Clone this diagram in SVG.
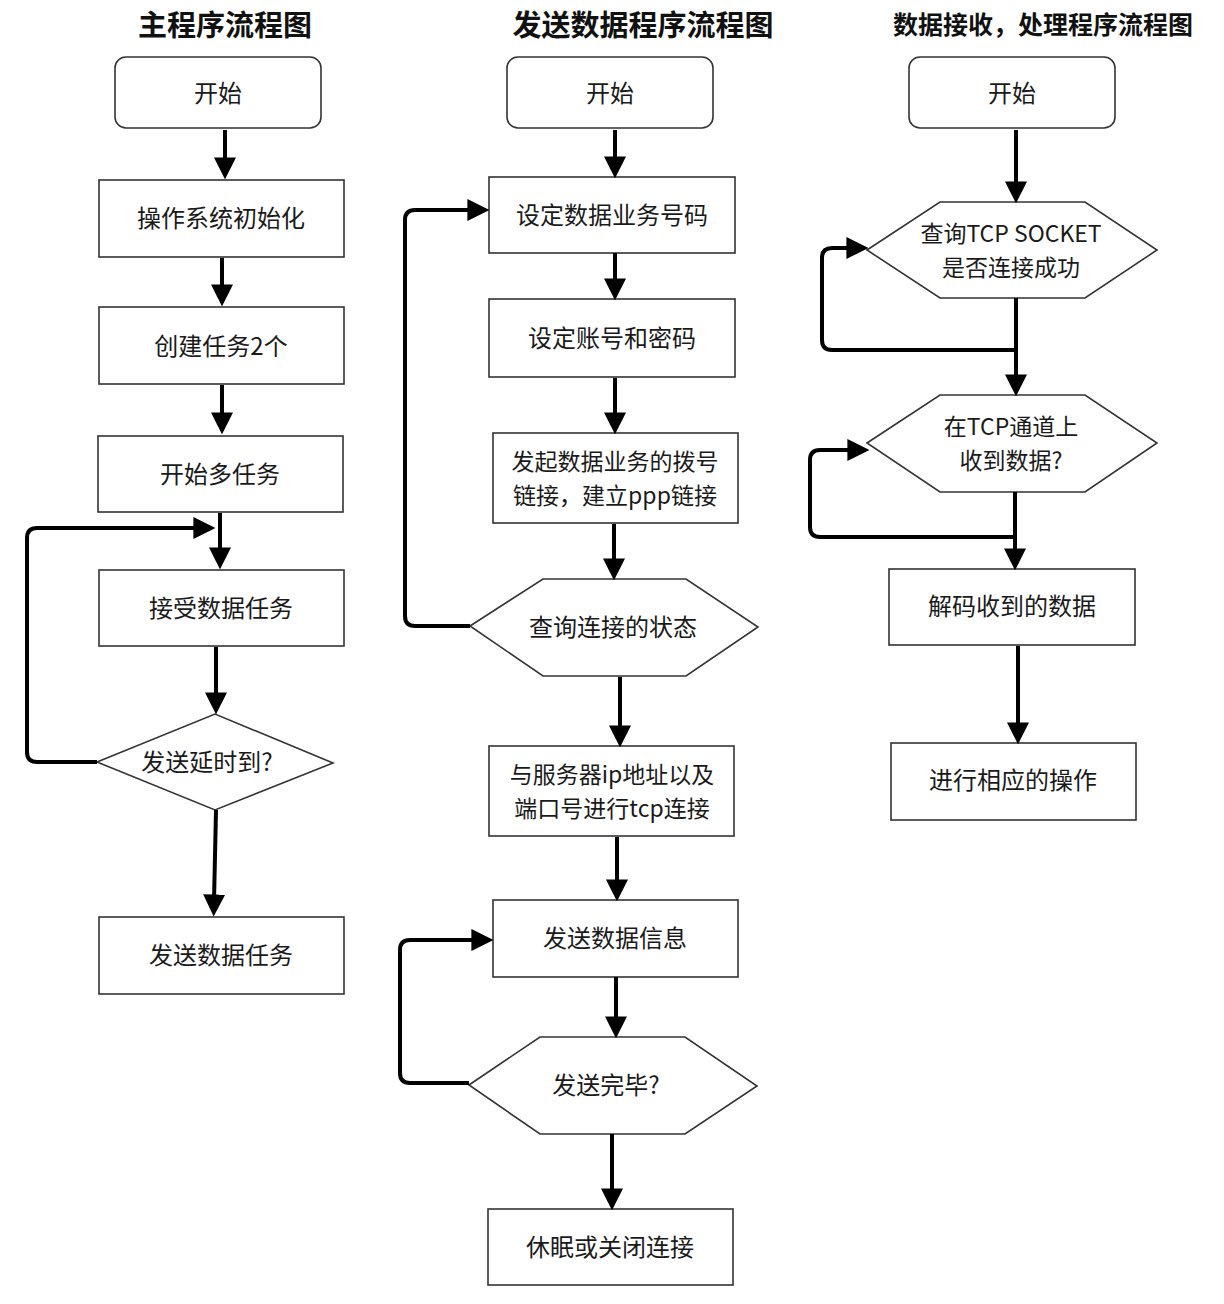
<svg xmlns="http://www.w3.org/2000/svg" width="1224" height="1304" viewBox="0 0 1224 1304">
<style>
.bg{fill:#ffffff}
.box{fill:#ffffff;stroke:#333333;stroke-width:1.6}
.t{font-family:"Noto Sans CJK SC","Noto Sans",sans-serif;font-size:24px;fill:#1a1a1a;text-anchor:middle;dominant-baseline:central}
.t2{font-size:23px}
.title{font-family:"Noto Sans CJK SC","Noto Sans",sans-serif;font-weight:bold;fill:#111111;text-anchor:middle;dominant-baseline:central}
.c{fill:none;stroke:#000000;stroke-width:4;stroke-linejoin:round;marker-end:url(#ah)}
</style>
<defs>
<marker id="ah" viewBox="0 0 20 20" markerUnits="userSpaceOnUse" markerWidth="22" markerHeight="22" refX="6" refY="10" orient="auto">
<path d="M0,0 L20,10 L0,20 z" fill="#000000"/>
</marker>
</defs>
<rect class="bg" x="0" y="0" width="1224" height="1304"/>

<g id="titles">
<text class="title" x="225" y="23" font-size="29">主程序流程图</text>
<text class="title" x="643" y="23" font-size="29">发送数据程序流程图</text>
<text class="title" x="1043" y="23" font-size="25">数据接收，处理程序流程图</text>
</g>

<!-- Column 1 -->
<g id="m_start"><rect class="box" x="115" y="57" width="206" height="71" rx="11"/><text class="t" x="218" y="91">开始</text></g>
<g id="m_init"><rect class="box" x="99" y="180" width="245" height="77"/><text class="t" x="221" y="216">操作系统初始化</text></g>
<g id="m_create"><rect class="box" x="99" y="307" width="245" height="77"/><text class="t" x="221" y="344">创建任务2个</text></g>
<g id="m_multi"><rect class="box" x="98" y="436" width="245" height="76"/><text class="t" x="220" y="472">开始多任务</text></g>
<g id="m_recv"><rect class="box" x="99" y="570" width="245" height="76"/><text class="t" x="221" y="606">接受数据任务</text></g>
<g id="m_delay"><polygon class="box" points="97,762 215,714 333,763 215,810"/><text class="t" x="207" y="760">发送延时到?</text></g>
<g id="m_send"><rect class="box" x="99" y="917" width="245" height="77"/><text class="t" x="221" y="953">发送数据任务</text></g>

<!-- Column 2 -->
<g id="s_start"><rect class="box" x="507" y="57" width="206" height="71" rx="11"/><text class="t" x="610" y="91">开始</text></g>
<g id="s_num"><rect class="box" x="489" y="177" width="246" height="76"/><text class="t" x="612" y="213">设定数据业务号码</text></g>
<g id="s_acct"><rect class="box" x="489" y="299" width="246" height="78"/><text class="t" x="612" y="336">设定账号和密码</text></g>
<g id="s_dial"><rect class="box" x="493" y="433" width="245" height="90"/><text class="t t2" x="615" y="460">发起数据业务的拨号</text><text class="t t2" x="615" y="494">链接，建立ppp链接</text></g>
<g id="s_query"><polygon class="box" points="470,626 543,579 686,579 758,627 686,676 543,676"/><text class="t" x="613" y="625">查询连接的状态</text></g>
<g id="s_tcp"><rect class="box" x="489" y="746" width="245" height="90"/><text class="t t2" x="612" y="773">与服务器ip地址以及</text><text class="t t2" x="612" y="807">端口号进行tcp连接</text></g>
<g id="s_info"><rect class="box" x="493" y="900" width="245" height="77"/><text class="t" x="615" y="936">发送数据信息</text></g>
<g id="s_done"><polygon class="box" points="469,1085 540,1037 685,1037 757,1086 685,1134 540,1134"/><text class="t" x="606" y="1083">发送完毕?</text></g>
<g id="s_close"><rect class="box" x="488" y="1209" width="245" height="76"/><text class="t" x="610" y="1245">休眠或关闭连接</text></g>

<!-- Column 3 -->
<g id="r_start"><rect class="box" x="909" y="57" width="206" height="71" rx="11"/><text class="t" x="1012" y="91">开始</text></g>
<g id="r_sock"><polygon class="box" points="867,250 940,202 1085,202 1157,250 1085,298 940,298"/><text class="t t2" x="1011" y="232">查询TCP SOCKET</text><text class="t t2" x="1011" y="266">是否连接成功</text></g>
<g id="r_data"><polygon class="box" points="867,443 940,395 1085,395 1157,443 1085,492 940,492"/><text class="t t2" x="1011" y="425">在TCP通道上</text><text class="t t2" x="1011" y="459">收到数据?</text></g>
<g id="r_decode"><rect class="box" x="889" y="569" width="246" height="76"/><text class="t" x="1012" y="604">解码收到的数据</text></g>
<g id="r_op"><rect class="box" x="891" y="743" width="245" height="77"/><text class="t" x="1013" y="778">进行相应的操作</text></g>

<g id="connectors">
<!-- column 1 -->
<path class="c" d="M225,130 L225,164"/>
<path class="c" d="M222,258 L222,291"/>
<path class="c" d="M222,385 L222,419"/>
<path class="c" d="M220,513 L220,554"/>
<path class="c" d="M97,762 L37,762 Q27,762 27,752 L27,538 Q27,528 37,528 L200,528"/>
<path class="c" d="M216,647 L216,699"/>
<path class="c" d="M216,810 L214,901"/>
<!-- column 2 -->
<path class="c" d="M615,130 L615,163"/>
<path class="c" d="M470,626 L415,626 Q405,626 405,616 L405,220 Q405,210 415,210 L474,210"/>
<path class="c" d="M615,253 L615,285"/>
<path class="c" d="M615,378 L615,419"/>
<path class="c" d="M614,524 L614,565"/>
<path class="c" d="M620,677 L620,732"/>
<path class="c" d="M617,837 L617,886"/>
<path class="c" d="M616,977 L616,1023"/>
<path class="c" d="M469,1083 L410,1083 Q400,1083 400,1073 L400,950 Q400,940 410,940 L478,940"/>
<path class="c" d="M612,1134 L612,1195"/>
<!-- column 3 -->
<path class="c" d="M1016,130 L1016,188"/>
<path class="c" d="M1016,350 L832,350 Q822,350 822,340 L822,258 Q822,248 832,248 L853,248"/>
<path class="c" d="M1016,298 L1016,381"/>
<path class="c" d="M1016,537 L820,537 Q810,537 810,527 L810,460 Q810,450 820,450 L854,450" stroke-width="5"/>
<path class="c" d="M1015,492 L1015,555"/>
<path class="c" d="M1018,646 L1018,729"/>
</g>
</svg>
